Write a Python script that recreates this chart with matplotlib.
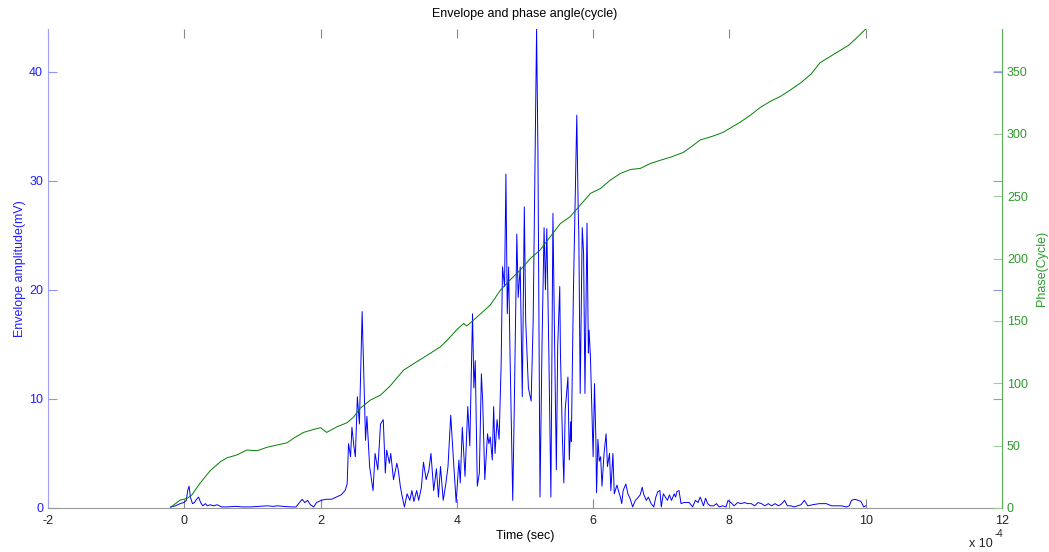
import matplotlib
matplotlib.use('Agg')
import matplotlib.pyplot as plt

# envelope amplitude (mV) vs time (x 1e-4 s)
env_t = [-0.20, -0.13, -0.06, -0.01, 0.03, 0.05, 0.07, 0.09, 0.12, 0.15, 0.18, 0.21,
         0.24, 0.27, 0.31, 0.34, 0.38, 0.43, 0.48, 0.55, 0.63, 0.75, 0.85, 0.97,
         1.10, 1.22, 1.30, 1.37, 1.45, 1.56, 1.64, 1.69, 1.73, 1.77, 1.81, 1.85,
         1.90, 1.94, 2.01, 2.08, 2.16, 2.23, 2.30, 2.36, 2.39, 2.41, 2.44, 2.46,
         2.49, 2.51, 2.54, 2.57, 2.61, 2.63, 2.66, 2.68, 2.72, 2.77, 2.80, 2.84,
         2.88, 2.92, 2.95, 2.97, 3.01, 3.03, 3.07, 3.12, 3.14, 3.17, 3.19, 3.23,
         3.27, 3.31, 3.34, 3.37, 3.41, 3.44, 3.48, 3.51, 3.55, 3.59, 3.62, 3.66,
         3.70, 3.73, 3.76, 3.80, 3.84, 3.87, 3.91, 3.95, 3.99, 4.03, 4.05, 4.08,
         4.12, 4.16, 4.19, 4.23, 4.25, 4.27, 4.30, 4.33, 4.36, 4.38, 4.41, 4.45,
         4.47, 4.49, 4.52, 4.54, 4.56, 4.59, 4.62, 4.65, 4.67, 4.70, 4.72, 4.74,
         4.76, 4.78, 4.82, 4.84, 4.88, 4.90, 4.93, 4.96, 4.99, 5.01, 5.05, 5.09,
         5.12, 5.17, 5.19, 5.22, 5.25, 5.28, 5.30, 5.32, 5.35, 5.38, 5.41, 5.43,
         5.46, 5.48, 5.51, 5.52, 5.55, 5.57, 5.59, 5.61, 5.63, 5.65, 5.67, 5.68,
         5.71, 5.74, 5.76, 5.78, 5.79, 5.81, 5.84, 5.86, 5.88, 5.91, 5.93, 5.94,
         5.96, 6.00, 6.02, 6.04, 6.05, 6.07, 6.09, 6.11, 6.13, 6.16, 6.19, 6.21,
         6.24, 6.26, 6.29, 6.31, 6.35, 6.37, 6.40, 6.42, 6.44, 6.48, 6.51, 6.54,
         6.58, 6.62, 6.65, 6.69, 6.72, 6.74, 6.78, 6.81, 6.85, 6.89, 6.92, 6.95,
         6.98, 7.00, 7.03, 7.06, 7.09, 7.12, 7.15, 7.19, 7.21, 7.23, 7.26, 7.29,
         7.33, 7.36, 7.41, 7.46, 7.50, 7.54, 7.57, 7.59, 7.62, 7.65, 7.68, 7.72,
         7.77, 7.81, 7.85, 7.90, 7.95, 7.98, 8.02, 8.07, 8.12, 8.17, 8.22, 8.27,
         8.32, 8.37, 8.42, 8.47, 8.52, 8.57, 8.62, 8.67, 8.72, 8.77, 8.81, 8.85,
         8.90, 8.95, 9.00, 9.05, 9.10, 9.15, 9.22, 9.32, 9.42, 9.50, 9.57, 9.64,
         9.72, 9.76, 9.79, 9.84, 9.89, 9.93, 9.97, 10.00]
env_v = [0.1, 0.2, 0.4, 0.5, 0.7, 1.6, 2.0, 1.0, 0.4, 0.5, 0.8, 1.0,
         0.5, 0.2, 0.4, 0.2, 0.3, 0.2, 0.3, 0.1, 0.1, 0.15, 0.1, 0.1,
         0.15, 0.2, 0.15, 0.2, 0.15, 0.1, 0.1, 0.5, 0.8, 0.5, 0.7, 0.3,
         0.1, 0.5, 0.7, 0.8, 0.8, 1.0, 1.2, 1.6, 2.2, 5.9, 4.7, 7.4,
         5.6, 4.7, 10.2, 7.7, 18.0, 13.2, 6.2, 8.4, 3.8, 1.6, 5.0, 3.5,
         7.7, 8.1, 3.2, 5.3, 4.1, 5.0, 2.6, 4.1, 3.5, 2.0, 1.3, 0.1,
         1.3, 0.7, 1.6, 0.6, 1.6, 0.7, 1.9, 4.2, 2.6, 3.5, 5.0, 1.6,
         3.6, 1.0, 3.8, 0.7, 2.3, 3.8, 8.5, 4.4, 0.5, 4.4, 2.3, 7.4,
         2.9, 9.3, 5.7, 17.8, 11.0, 13.5, 2.0, 3.2, 12.3, 9.6, 2.6, 6.8,
         5.9, 6.5, 4.4, 9.3, 5.0, 8.1, 6.3, 13.2, 22.1, 20.3, 30.6, 17.8,
         22.1, 14.2, 0.7, 8.1, 25.1, 19.3, 22.1, 10.2, 27.6, 17.2, 11.0, 9.8,
         17.2, 43.9, 32.5, 1.0, 15.1, 25.7, 20.0, 25.6, 14.2, 1.0, 27.0, 17.2,
         3.5, 14.8, 20.3, 14.2, 6.2, 2.3, 9.0, 10.5, 12.0, 4.4, 7.9, 6.1,
         19.7, 29.4, 36.0, 27.6, 24.9, 10.5, 25.7, 23.3, 10.5, 26.1, 14.2, 16.3,
         13.9, 4.7, 11.4, 6.3, 1.4, 6.3, 4.3, 4.7, 2.0, 5.0, 6.8, 3.8,
         5.0, 1.6, 5.0, 1.3, 2.1, 1.6, 1.0, 0.4, 1.6, 2.2, 1.3, 0.9,
         0.1, 0.7, 0.9, 1.2, 1.9, 1.3, 0.7, 1.0, 0.4, 0.1, 1.0, 1.5,
         1.6, 0.1, 1.3, 1.0, 0.7, 1.2, 0.7, 1.3, 1.0, 1.5, 1.6, 0.4,
         0.5, 0.5, 0.5, 0.1, 0.7, 0.5, 1.0, 0.7, 0.2, 0.9, 0.4, 0.2,
         0.2, 0.4, 0.1, 0.2, 0.1, 0.7, 0.5, 0.2, 0.5, 0.4, 0.5, 0.4,
         0.4, 0.2, 0.5, 0.4, 0.2, 0.4, 0.2, 0.4, 0.2, 0.4, 0.7, 0.2,
         0.2, 0.1, 0.2, 0.3, 0.7, 0.2, 0.3, 0.4, 0.4, 0.2, 0.2, 0.2,
         0.1, 0.2, 0.7, 0.8, 0.7, 0.6, 0.1, 0.2]

# phase angle (cycles)
ph_t = [-0.20, -0.19, -0.06, 0.04, 0.11, 0.23, 0.38, 0.53, 0.63, 0.77, 0.92, 1.07,
        1.21, 1.36, 1.51, 1.60, 1.75, 1.90, 2.00, 2.09, 2.24, 2.39, 2.49, 2.58,
        2.73, 2.88, 3.02, 3.22, 3.41, 3.61, 3.76, 3.86, 4.00, 4.10, 4.14, 4.17,
        4.30, 4.49, 4.64, 4.78, 4.93, 5.08, 5.22, 5.37, 5.52, 5.66, 5.81, 5.96,
        6.11, 6.25, 6.40, 6.55, 6.69, 6.84, 7.00, 7.15, 7.32, 7.45, 7.57, 7.75,
        7.90, 8.01, 8.15, 8.31, 8.45, 8.60, 8.75, 8.89, 9.05, 9.20, 9.33, 9.48,
        9.63, 9.75, 9.85, 10.00]
ph_v = [0, 1, 6.4, 7.7, 10.4, 19.8, 29.9, 37.1, 40.3, 42.5, 46.5, 45.9,
        48.6, 50.5, 52.3, 55.8, 60.6, 63.0, 64.4, 60.6, 65.1, 68.4, 73.2, 79.9,
        86.5, 90.5, 97.8, 110.6, 117.2, 124.0, 129.3, 134.6, 143.0, 148.0, 146.0, 147.0,
        153.3, 162.7, 174.7, 182.7, 190.7, 200.1, 206.7, 217.4, 228.1, 233.4, 242.8, 252.2,
        256.2, 262.8, 268.2, 271.4, 272.2, 276.2, 279.0, 281.5, 285.0, 290.0, 295.0, 298.0,
        301.0, 304.5, 309.0, 315.0, 321.0, 326.0, 330.0, 335.0, 341.0, 348.0, 357.0, 362.0,
        367.0, 371.0, 376.0, 384.0]

plt.rcParams['font.family'] = ['Liberation Sans', 'DejaVu Sans']
plt.rcParams['font.size'] = 9
plt.rcParams['axes.unicode_minus'] = False

fig = plt.figure(figsize=(10.49, 5.52), dpi=100)
ax = fig.add_axes([48 / 1049, 1 - 508 / 552, 954 / 1049, 479 / 552])
ax2 = ax.twinx()

ax.plot(env_t, env_v, c='#0000ff', lw=0.7)
ax2.plot(ph_t, ph_v, c='#008000', lw=0.7)

ax.set_xlim(-2, 12)
ax.set_ylim(0, 43.9)
ax2.set_ylim(0, 384)
ax.set_xticks([-2, 0, 2, 4, 6, 8, 10, 12])
ax.set_yticks([0, 10, 20, 30, 40])
ax2.set_yticks([0, 50, 100, 150, 200, 250, 300, 350])

# axes styling like matlab plotyy
for a in (ax, ax2):
    a.spines['top'].set_visible(False)
ax.spines['right'].set_visible(False)
ax2.spines['left'].set_visible(False)
ax2.spines['bottom'].set_visible(False)
ax.spines['left'].set_color('#a0a0ff')
ax.spines['bottom'].set_color('#999999')
ax2.spines['right'].set_color('#5aac5a')

ax.tick_params(axis='x', direction='in', top=True, length=6.5, color='#888888',
               labelcolor='#222222', labelsize=9, pad=5)
ax.tick_params(axis='y', direction='in', right=True, length=6.5, color='#9090ff',
               labelcolor='#1f1fff', labelsize=9)
ax2.tick_params(axis='y', direction='in', length=6.5, color='#9ccf9c',
                labelcolor='#2e9a2e', labelsize=9)

ax.set_title('Envelope and phase angle(cycle)', fontsize=9, pad=9)
ax.set_xlabel('Time (sec)', fontsize=9, labelpad=2)
ax.set_ylabel('Envelope amplitude(mV)', color='#1f1fff', fontsize=9, labelpad=2)
ax2.set_ylabel('Phase(Cycle)', color='#2e9a2e', fontsize=9, labelpad=6)

# exponent label at bottom right
fig.text(969 / 1049, 1 - 547 / 552, 'x 10', fontsize=9, color='#222222')
fig.text(995 / 1049, 1 - 537 / 552, '-4', fontsize=7, color='#222222')

fig.savefig('out.png', dpi=100)
